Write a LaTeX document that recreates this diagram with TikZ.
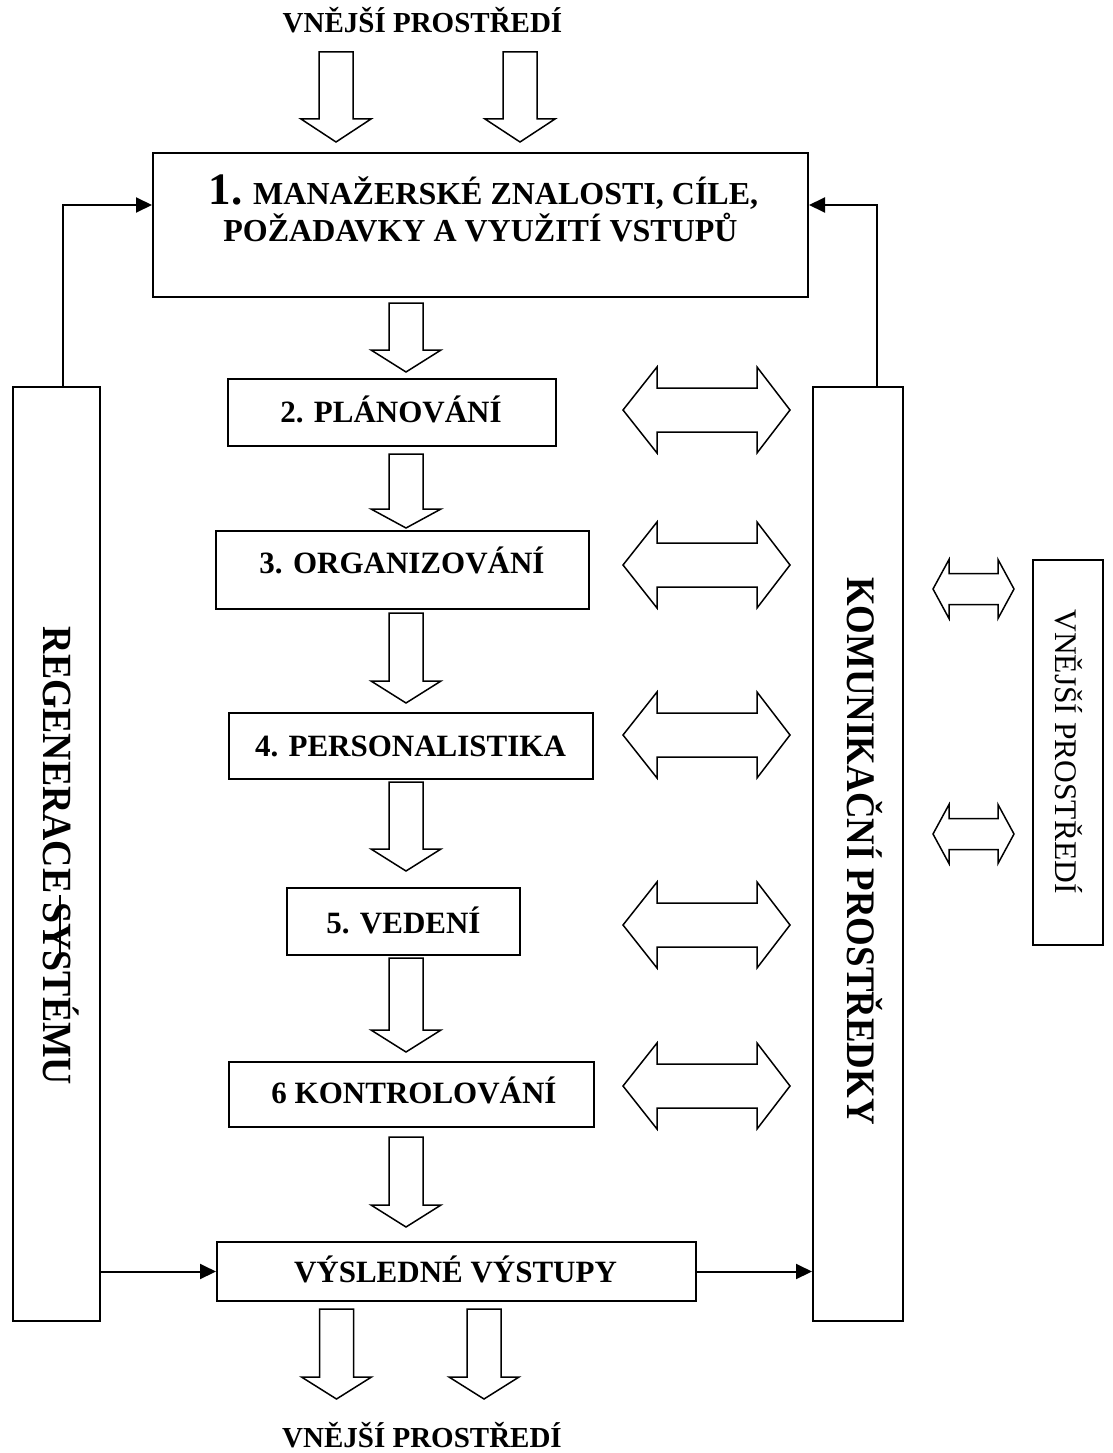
\documentclass[tikz,border=0pt]{standalone}
\usepackage{fontspec}
\setmainfont{Liberation Serif}
\newfontfamily\condserif[FakeStretch=0.91]{Liberation Serif}
\usetikzlibrary{arrows.meta}
\newcommand\blkdown[4]{%
  \draw[blk] (#1-17,#2) -- (#1+17,#2) -- (#1+17,#3) -- (#1+35,#3) -- (#1,#4)
    -- (#1-35,#3) -- (#1-17,#3) -- cycle;}
\newcommand\blkboth[7]{% xl, xhl, xhr, xr, yc, half shaft, half head
  \draw[blk] (#1,#5) -- (#2,#5-#7) -- (#2,#5-#6) -- (#3,#5-#6) -- (#3,#5-#7)
    -- (#4,#5) -- (#3,#5+#7) -- (#3,#5+#6) -- (#2,#5+#6) -- (#2,#5+#7) -- cycle;}
\begin{document}
\begin{tikzpicture}[x=1pt,y=-1pt,
  boxed/.style={draw, line width=2pt, inner sep=0pt},
  blk/.style={draw, line width=1.5pt, line join=miter, fill=white},
  conn/.style={line width=2pt, -{Triangle[length=16pt,width=15pt]}},
  lab/.style={inner sep=0pt, text depth=0pt, text height=20.5pt,
    font=\bfseries\fontsize{31}{31}\selectfont},
  envlab/.style={inner sep=0pt, text depth=0pt, text height=19pt,
    font=\bfseries\fontsize{29}{29}\selectfont},
  rotlab/.style={inner sep=0pt, text depth=0pt, rotate=-90}]
\useasboundingbox[fill=white] (0,0) rectangle (1113,1453);

% top environment
\node[envlab] (envtop) at (422.5,23) {VNĚJŠÍ PROSTŘEDÍ};
\blkdown{336}{52}{119}{142}
\blkdown{520}{52}{119}{142}

% box 1
\node[boxed, minimum width=655pt, minimum height=144pt] (b1) at (480.5,225) {};
\node[anchor=base, inner sep=0pt, font=\bfseries\fontsize{32}{32}\selectfont] (t1a) at (483.5,204)
  {{\fontsize{45}{45}\selectfont 1.} MANAŽERSKÉ ZNALOSTI, CÍLE,};
\node[anchor=base, inner sep=0pt, font=\bfseries\fontsize{32}{32}\selectfont] (t1b) at (480.5,241)
  {POŽADAVKY A VYUŽITÍ VSTUPŮ};

% central column
\blkdown{406}{303}{350}{372}
\node[boxed, minimum width=328pt, minimum height=67pt] (b2) at (392,412.5) {};
\node[lab] (t2) at (391,412) {2. PLÁNOVÁNÍ};
\blkdown{406}{454}{509}{528}
\node[boxed, minimum width=373pt, minimum height=78pt] (b3) at (402.5,570) {};
\node[lab] (t3) at (402,563) {3. ORGANIZOVÁNÍ};
\blkdown{406}{613}{681}{703}
\node[boxed, minimum width=364pt, minimum height=66pt] (b4) at (411,746) {};
\node[lab] (t4) at (410.5,746) {4. PERSONALISTIKA};
\blkdown{406}{782}{849}{871}
\node[boxed, minimum width=233pt, minimum height=67pt] (b5) at (403.5,921.5) {};
\node[lab] (t5) at (403.5,923) {5. VEDENÍ};
\blkdown{406}{958}{1030}{1052}
\node[boxed, minimum width=365pt, minimum height=65pt] (b6) at (411.5,1094.5) {};
\node[lab] (t6) at (414,1093) {6 KONTROLOVÁNÍ};
\blkdown{406}{1137}{1205}{1227}
\node[boxed, minimum width=479pt, minimum height=59pt] (b7) at (456.5,1271.5) {};
\node[lab] (t7) at (455.5,1272) {VÝSLEDNÉ VÝSTUPY};

% bottom environment
\blkdown{336.5}{1309}{1377}{1399}
\blkdown{484}{1309}{1377}{1399}
\node[envlab] (envbot) at (422,1438) {VNĚJŠÍ PROSTŘEDÍ};

% side boxes
\node[boxed, minimum width=87pt, minimum height=934pt] (regen) at (56.5,854) {};
\node[rotlab, text height=27pt, font=\condserif\bfseries\fontsize{41.5}{41.5}\selectfont] (tregen) at (56.5,856) {REGENERACE SYSTÉMU};
\draw[line width=1.5pt] (60,895) -- (60,955);
\node[boxed, minimum width=90pt, minimum height=934pt] (kom) at (858,854) {};
\node[rotlab, text height=26.5pt, font=\condserif\bfseries\fontsize{40.5}{40.5}\selectfont] (tkom) at (861,851) {KOMUNIKAČNÍ PROSTŘEDKY};
\node[boxed, minimum width=70pt, minimum height=385pt] (env) at (1068,752.5) {};
\node[rotlab, text height=21pt, font=\fontsize{31.5}{31.5}\selectfont] (tenv) at (1066,751.5) {VNĚJŠÍ PROSTŘEDÍ};

% double arrows
\blkboth{623}{657}{757}{790}{410}{22}{43}
\blkboth{623}{657}{757}{790}{565}{22}{43}
\blkboth{623}{657}{757}{790}{735}{22}{43}
\blkboth{623}{657}{757}{790}{925}{22}{43}
\blkboth{623}{657}{757}{790}{1086}{22}{43}
\blkboth{933}{949}{998}{1014}{589}{15.5}{29.5}
\blkboth{933}{949}{998}{1014}{834}{15.5}{29.5}

% connectors
\draw[conn] ([xshift=6.5pt]regen.north) |- ([yshift=20pt]b1.west);
\draw[conn] ([xshift=19pt]kom.north) |- ([yshift=20pt]b1.east);
\draw[conn] (regen.east |- b7.west) -- (b7.west);
\draw[conn] (b7.east) -- (kom.west |- b7.east);
\end{tikzpicture}
\end{document}
